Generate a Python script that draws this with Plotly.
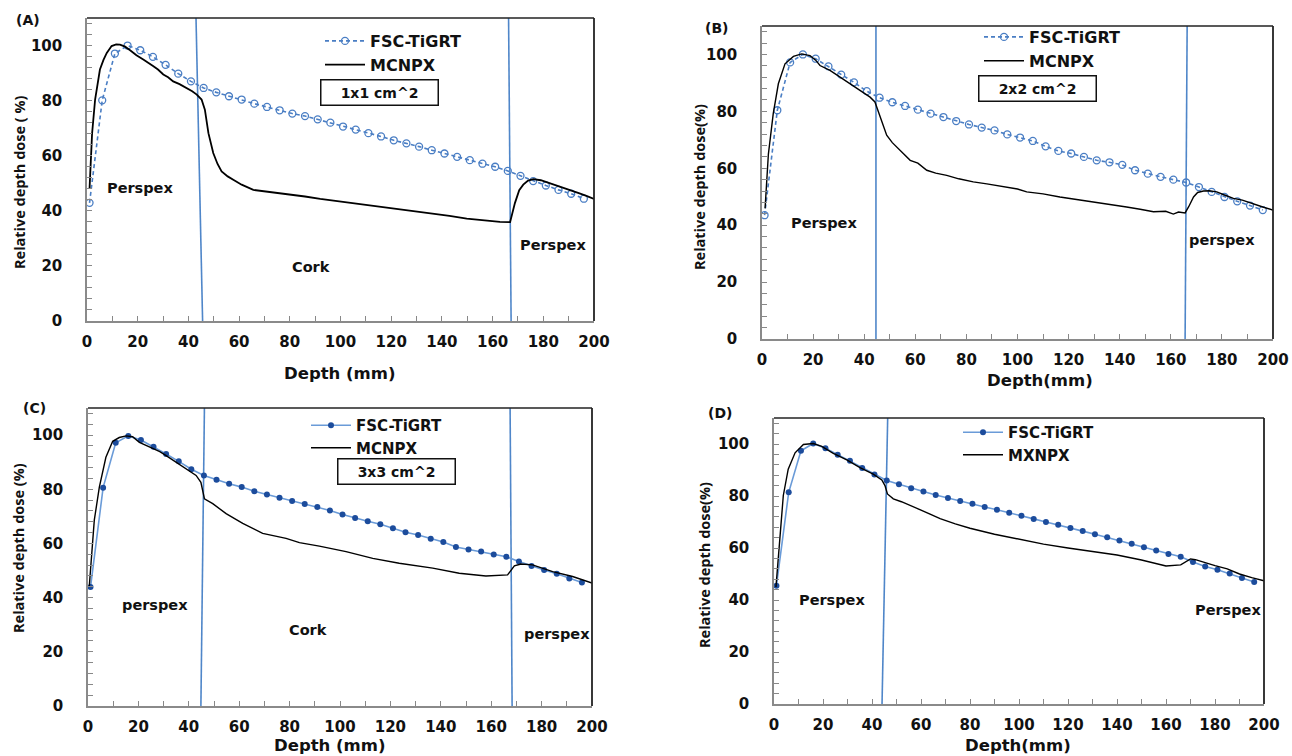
import plotly.graph_objects as go

W, H = 1292, 756

# ---------------- data ----------------
fsc_depth = [1 + 5 * k for k in range(40)]  # FSC-TiGRT sample depths (mm)

fsc_a = [42.9, 80.1, 97.1, 100.0, 98.3, 95.9, 93.0, 89.8, 87.0, 84.6, 83.0, 81.6, 80.4, 78.9,
         77.7, 76.5, 75.3, 74.4, 73.2, 72.0, 70.6, 69.5, 68.2, 67.0, 65.6, 64.5, 63.3, 62.0,
         60.8, 59.6, 58.4, 57.1, 56.0, 54.5, 52.7, 50.8, 49.2, 47.6, 46.2, 44.4]
fsc_b = [43.5, 80.4, 97.2, 100.0, 98.5, 95.8, 92.9, 90.2, 87.1, 84.8, 83.2, 81.9, 80.6, 79.2,
         78.0, 76.6, 75.4, 74.3, 73.3, 71.9, 70.8, 69.6, 67.7, 66.1, 65.2, 64.0, 62.8, 62.1,
         61.2, 59.3, 58.1, 57.0, 56.0, 55.0, 53.4, 51.7, 49.9, 48.4, 46.9, 45.3]
fsc_c = [43.9, 80.6, 97.2, 99.7, 98.2, 95.7, 93.0, 90.3, 87.4, 85.1, 83.5, 82.0, 80.8, 79.3,
         78.1, 76.9, 75.7, 74.6, 73.5, 72.2, 70.7, 69.4, 68.2, 67.1, 65.6, 64.1, 63.1, 61.7,
         60.5, 58.7, 57.8, 57.0, 55.9, 55.1, 53.3, 51.7, 50.2, 48.8, 47.1, 45.6]
fsc_d = [45.5, 81.4, 97.4, 100.2, 98.4, 95.9, 93.6, 90.8, 88.3, 86.0, 84.5, 83.0, 81.7, 80.4,
         79.2, 78.1, 77.0, 75.8, 74.7, 73.6, 72.4, 71.2, 70.0, 68.9, 67.7, 66.5, 65.3, 64.1,
         62.9, 61.6, 60.3, 59.0, 57.7, 56.6, 54.6, 52.9, 51.6, 50.2, 48.5, 46.9]

mc_a_x = [1.0, 2.0, 3.2, 4.2, 5.1, 6.5, 7.8, 9.7, 11.5, 13, 15, 17, 19.5, 22.2, 24.5, 26.2, 28,
          30.1, 32, 34, 36.5, 39.3, 41.5, 43.3, 45.2, 46.5, 47.9, 49.8, 51.5, 53.1, 55.5, 57.7,
          61, 65.6, 70, 74.8, 80, 86, 92, 98, 104, 110, 116, 123.5, 130, 136.6, 143, 149.8,
          156, 162.9, 166.9, 168.8, 170.5, 172.1, 174, 176.1, 179, 182, 186.6, 190, 194, 197, 200]
mc_a_y = [48, 68, 80.4, 87, 91.3, 94.8, 97.3, 99.8, 100.4, 100.3, 99.6, 98.3, 96.5, 94.9, 93.6,
          92.5, 91.3, 89.5, 88.5, 87, 86, 84.6, 83.4, 82.2, 80.4, 76.7, 68.2, 61, 57, 54.3, 52.5,
          51.3, 49.5, 47.6, 47.1, 46.4, 45.8, 45.2, 44.3, 43.6, 42.9, 42.2, 41.3, 40.4, 39.8,
          38.9, 38.2, 37.2, 36.6, 36.0, 35.9, 42.8, 47.5, 49.5, 51.0, 51.5, 51.1, 50.2, 48.8,
          47.8, 46.4, 45.4, 44.3]

mc_b_x = [1.2, 2.5, 4.4, 6.4, 9.0, 12.3, 15.5, 18.8, 21, 22.7, 26.6, 30.5, 34.4, 38.4, 42.3,
          44.2, 46.2, 48.8, 51, 54, 58, 61, 64.5, 68, 72.3, 77, 82.7, 88, 95.8, 100, 103.6, 110,
          116.6, 123, 129.7, 136, 142.7, 148, 153.2, 158, 161, 163, 165.6, 167, 168.9, 170.5,
          172.8, 175, 178, 181, 184.5, 188, 192.3, 196, 200]
mc_b_y = [45.9, 65, 79.2, 89.7, 96.7, 99.3, 100.2, 99.6, 98, 96.1, 94.4, 92.0, 89.7, 87.4, 85.0,
          83.3, 78.0, 71.6, 69, 66.3, 62.8, 61.8, 59.3, 58.3, 57.5, 56.3, 55.2, 54.5, 53.4, 52.7,
          51.7, 51.0, 49.9, 49.1, 48.2, 47.5, 46.4, 45.6, 44.7, 44.9, 43.9, 44.6, 44.3, 46.5,
          49.9, 51.5, 52.0, 52.1, 51.7, 50.6, 49.4, 48.8, 47.4, 46.4, 45.3]

mc_c_x = [0.5, 1.5, 2.5, 4.5, 7.1, 9.8, 12.4, 15.1, 17.7, 20.4, 23, 25.7, 28.5, 31, 35, 38.9,
          42.9, 44.8, 46.2, 49.5, 54.8, 61.4, 69.3, 78.6, 83.9, 91.8, 102.4, 113, 123.5, 136.8,
          147.3, 157.9, 163, 166.5, 169.2, 171.8, 176.4, 184.4, 192.3, 200]
mc_c_y = [44.1, 58, 68.6, 80.8, 91.8, 97.7, 99.1, 99.7, 99.4, 97.3, 96.2, 94.9, 93.9, 92.4, 90.0,
          87.5, 85.1, 82.6, 76.5, 74.7, 71.0, 67.4, 63.7, 61.9, 60.3, 59.0, 57.0, 54.5, 52.7,
          50.9, 49.0, 48.0, 48.2, 48.4, 51.7, 52.4, 52.1, 49.6, 47.8, 45.4]

mc_d_x = [0.8, 1.5, 2.4, 3.8, 5.8, 8.6, 12, 16, 19.5, 24.2, 29.7, 35.1, 40.5, 44, 45.3, 46.3,
          48.7, 52, 56.9, 60, 63.7, 67.8, 74, 80, 90, 100, 110, 120, 130, 140, 150, 160, 166,
          168, 170, 172, 175, 180, 185, 190, 195, 200]
mc_d_y = [45, 55, 63.7, 80.2, 90.3, 96.6, 99.8, 100.2, 99.1, 96.4, 93.9, 90.9, 88.4, 86.2, 84.0,
          80.8, 78.9, 77.8, 76.0, 74.6, 73.0, 71.3, 69.3, 67.6, 65.3, 63.4, 61.5, 60.0, 58.6,
          57.3, 55.4, 53.1, 53.5, 54.8, 55.8, 55.5, 54.6, 53.2, 52.0, 50.0, 48.6, 47.4]

# material boundaries (depth at top of plot, depth at bottom of plot)
bound_a = [(43.0, 45.6), (166.3, 167.3)]
bound_b = [(44.6, 44.6), (166.4, 165.6)]
bound_c = [(46.2, 44.8), (167.5, 168.3)]
bound_d = [(46.4, 44.1)]

field_labels = ["1x1 cm^2", "2x2 cm^2", "3x3 cm^2"]
panel_letters = ["(A)", "(B)", "(C)", "(D)"]

# ---------------- layout helpers ----------------
def px(x):
    return x / W


def py(y):
    return 1 - y / H


FONT = "DejaVu Sans"
FONT2 = "Open Sans"
BLUE = "#4a7ec4"
LBLUE = "#6a9bd8"
DBLUE = "#1c4c9c"

panels = [
    dict(ax="", box=(87, 594, 18, 321), fsc=fsc_a, mx=mc_a_x, my=mc_a_y, bnd=bound_a, style="open",
         mcname="MCNPX", leg=(320, 24), lfs=16),
    dict(ax="2", box=(762, 1273, 26, 339), fsc=fsc_b, mx=mc_b_x, my=mc_b_y, bnd=bound_b, style="open",
         mcname="MCNPX", leg=(979, 20), lfs=16),
    dict(ax="3", box=(88, 592, 408, 706), fsc=fsc_c, mx=mc_c_x, my=mc_c_y, bnd=bound_c, style="filled",
         mcname="MCNPX", leg=(306, 409), lfs=15),
    dict(ax="4", box=(774, 1264, 418, 704), fsc=fsc_d, mx=mc_d_x, my=mc_d_y, bnd=bound_d, style="filled",
         mcname="MXNPX", leg=(958, 416), lfs=15),
]

fig = go.Figure()
layout = dict(width=W, height=H, margin=dict(l=0, r=0, t=0, b=0, autoexpand=False),
              paper_bgcolor="white", plot_bgcolor="white", font=dict(family=FONT, color="#111"))
shapes = []
annotations = []

tickfont = dict(family=FONT, size=15, color="#111", weight="bold")

for i, p in enumerate(panels):
    ax = p["ax"]
    xref = "x" + ax
    yref = "y" + ax
    legname = "legend" + ("" if i == 0 else str(i + 1))
    x0, x1, yt, yb = p["box"]
    layout["xaxis" + ax] = dict(domain=[px(x0), px(x1)], range=[0, 200], dtick=20, tick0=0,
                                ticks="inside", ticklen=5, tickcolor="#888", tickwidth=1,
                                minor=dict(ticks="inside", dtick=10, ticklen=5, tickcolor="#888"),
                                showline=True, linecolor="#8a8a8a", linewidth=1.5,
                                showgrid=False, zeroline=False, anchor=yref,
                                tickfont=tickfont, ticklabelstandoff=6)
    layout["yaxis" + ax] = dict(domain=[py(yb), py(yt)], range=[0, 110], dtick=20, tick0=0,
                                ticks="inside", ticklen=5, tickcolor="#888", tickwidth=1,
                                minor=dict(ticks="inside", dtick=4, ticklen=5, tickcolor="#888"),
                                showline=True, linecolor="#8a8a8a", linewidth=1.5,
                                showgrid=False, zeroline=False, anchor=xref,
                                tickfont=tickfont, ticklabelstandoff=20)
    # frame top & right
    shapes.append(dict(type="line", xref=xref + " domain", yref=yref + " domain", x0=0, x1=1, y0=1, y1=1,
                       line=dict(color="#222", width=1.6)))
    shapes.append(dict(type="line", xref=xref + " domain", yref=yref + " domain", x0=1, x1=1, y0=0, y1=1,
                       line=dict(color="#222", width=1.8)))

    # boundaries
    for (bt, bb) in p["bnd"]:
        fig.add_trace(go.Scatter(x=[bt, bb], y=[110, 0], mode="lines", xaxis=xref, yaxis=yref,
                                 line=dict(color="#4f86c9", width=1.6), showlegend=False,
                                 hoverinfo="skip"))

    if p["style"] == "open":
        fig.add_trace(go.Scatter(x=fsc_depth, y=p["fsc"], mode="lines+markers", name="FSC-TiGRT",
                                 xaxis=xref, yaxis=yref, legend=legname,
                                 line=dict(color=BLUE, width=1.6, dash="4px,3px"),
                                 marker=dict(symbol="circle-open", size=7, color=BLUE,
                                             line=dict(width=1.3, color=BLUE))))
    else:
        fig.add_trace(go.Scatter(x=fsc_depth, y=p["fsc"], mode="lines+markers", name="FSC-TiGRT",
                                 xaxis=xref, yaxis=yref, legend=legname,
                                 line=dict(color=LBLUE, width=1.6),
                                 marker=dict(symbol="circle", size=6, color=DBLUE)))
    fig.add_trace(go.Scatter(x=p["mx"], y=p["my"], mode="lines", name=p["mcname"],
                             xaxis=xref, yaxis=yref, legend=legname,
                             line=dict(color="black", width=1.8 if i == 0 else 1.4)))

    lx, ly = p["leg"]
    layout[legname] = dict(x=px(lx), y=py(ly), xanchor="left", yanchor="top",
                           bgcolor="rgba(0,0,0,0)", borderwidth=0, tracegroupgap=0,
                           font=dict(family=FONT, size=p["lfs"], color="#111", weight="bold"),
                           itemwidth=40)


def note(text, x, y, size, family=FONT, weight="bold", angle=0, **kw):
    d = dict(text=text, x=px(x), y=py(y), xref="paper", yref="paper", showarrow=False,
             xanchor="center", yanchor="middle", textangle=angle,
             font=dict(family=family, size=size, color="#111", weight=weight))
    d.update(kw)
    annotations.append(d)


# field-size boxes
boxes = [(379, 92.5), (1037, 89), (396, 471)]
for (bx, by), lab in zip(boxes, field_labels):
    note(lab, bx, by, 14, bordercolor="#111", borderwidth=1.5, borderpad=2, width=112, height=20,
         bgcolor="white")

# panel letters
letters_pos = [(28, 20), (716, 28), (34, 408), (720, 413)]
for (lx, ly), t in zip(letters_pos, panel_letters):
    note(t, lx, ly, 14)

# axis titles
ytitles = [("Relative depth dose ( %)", 20, 182), ("Relative depth dose(%)", 700, 187),
           ("Relative depth dose (%)", 18, 548), ("Relative depth dose(%)", 704, 565)]
for t, x, y in ytitles:
    note(t, x, y, 14.5, family=FONT2, angle=-90)
xtitles = [("Depth (mm)", 340, 373), ("Depth(mm)", 1040, 380), ("Depth (mm)", 330, 745),
           ("Depth(mm)", 1018, 745)]
for t, x, y in xtitles:
    note(t, x, y, 16.5)

# material labels
materials = [("Perspex", 140, 188), ("Cork", 311, 267), ("Perspex", 553, 245),
             ("Perspex", 824, 223), ("perspex", 1222, 240),
             ("perspex", 155, 605), ("Cork", 308, 630), ("perspex", 557, 634),
             ("Perspex", 832, 600), ("Perspex", 1228, 610)]
for t, x, y in materials:
    note(t, x, y, 14.5, weight=600)

layout["shapes"] = shapes
layout["annotations"] = annotations
fig.update_layout(**layout)
fig.write_html("out.html", config={"displayModeBar": False},
               post_script="document.body.style.margin='0px';document.body.style.padding='0px';")
